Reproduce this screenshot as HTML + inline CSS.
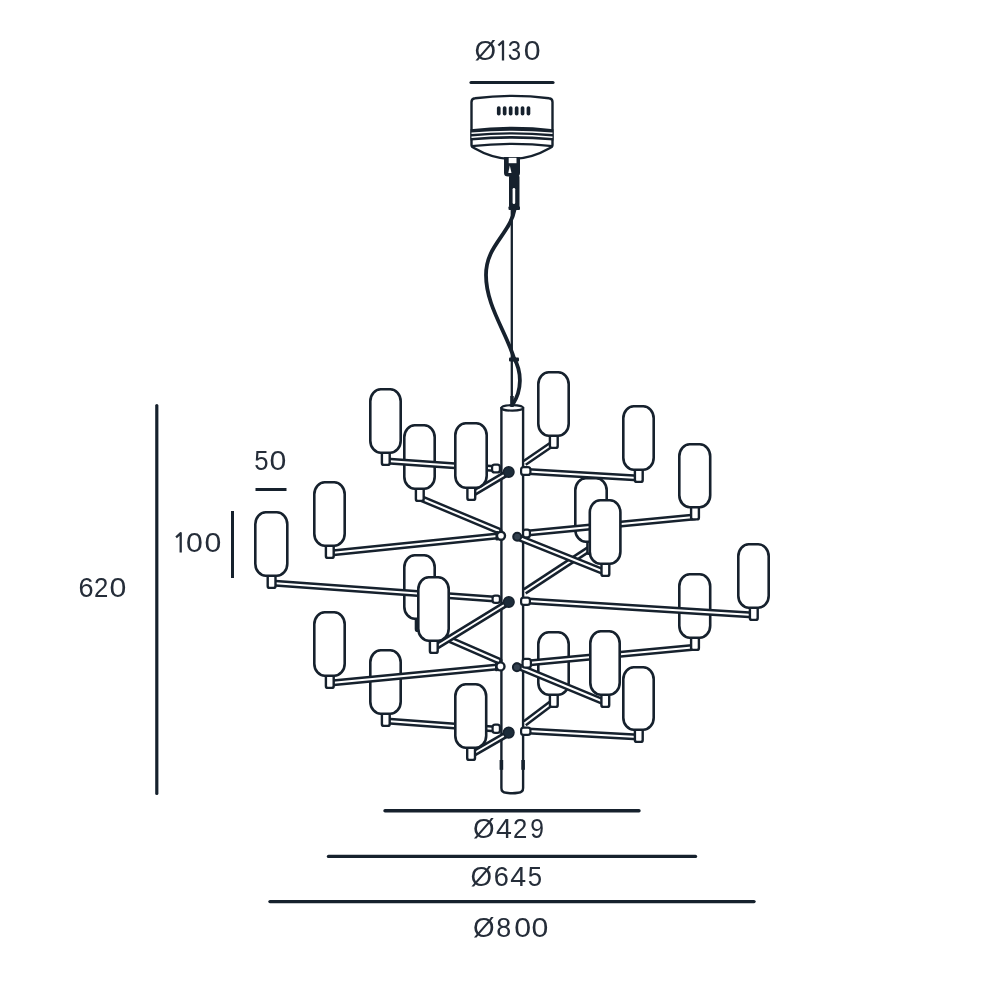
<!DOCTYPE html>
<html><head><meta charset="utf-8"><style>
html,body{margin:0;padding:0;background:#fff;width:1000px;height:1000px;overflow:hidden;font-family:"Liberation Sans",sans-serif;}
svg{display:block;will-change:transform}
</style></head><body>
<svg width="1000" height="1000" viewBox="0 0 1000 1000">
<rect width="1000" height="1000" fill="#fff"/>
<line x1="156.8" y1="405.5" x2="156.8" y2="793.5" stroke="#16212d" stroke-width="3.2" stroke-linecap="round"/>
<line x1="255.5" y1="489.5" x2="286.5" y2="489.5" stroke="#16212d" stroke-width="3"/>
<line x1="232.5" y1="511" x2="232.5" y2="578" stroke="#16212d" stroke-width="3"/>
<line x1="471" y1="82.5" x2="553" y2="82.5" stroke="#16212d" stroke-width="3.2" stroke-linecap="round"/>
<line x1="385" y1="810.8" x2="639" y2="810.8" stroke="#16212d" stroke-width="3.4" stroke-linecap="round"/>
<line x1="328.5" y1="856.4" x2="695.5" y2="856.4" stroke="#16212d" stroke-width="3.4" stroke-linecap="round"/>
<line x1="270" y1="901.6" x2="754" y2="901.6" stroke="#16212d" stroke-width="3.4" stroke-linecap="round"/>
<path d="M471.5,102 Q471.5,98.5 475,98.2 Q512,93.5 549,98.2 Q552.5,98.5 552.5,102 L552.5,145 Q552.5,147 550,148 Q512,170 474,148 Q471.5,147 471.5,145 Z" fill="#fff" stroke="#16212d" stroke-width="2.4"/>
<path d="M470.5,129.2 Q512,124.5 553.5,129.2 L553.5,140.6 Q512,136.8 470.5,140.6 Z" fill="#16212d"/>
<path d="M471.5,133.3 Q512,129.6 552.5,133.3" fill="none" stroke="#fff" stroke-width="1.4"/>
<path d="M471.5,137.2 Q512,133.4 552.5,137.2" fill="none" stroke="#fff" stroke-width="1.4"/>
<path d="M471.5,146.2 Q512,141.5 552.5,146.2" fill="none" stroke="#16212d" stroke-width="2.3"/>
<rect x="496.9" y="106.3" width="3.7" height="9.3" rx="1.8" fill="#16212d"/>
<rect x="502.8" y="106.3" width="3.7" height="9.3" rx="1.8" fill="#16212d"/>
<rect x="508.8" y="106.3" width="3.7" height="9.3" rx="1.8" fill="#16212d"/>
<rect x="514.8" y="106.3" width="3.7" height="9.3" rx="1.8" fill="#16212d"/>
<rect x="520.7" y="106.3" width="3.7" height="9.3" rx="1.8" fill="#16212d"/>
<rect x="526.6" y="106.3" width="3.7" height="9.3" rx="1.8" fill="#16212d"/>
<path d="M504,157 L520,157 L520,173 Q520,176.5 516,176.5 L508,176.5 Q504,176.5 504,173 Z" fill="#16212d"/>
<rect x="508.7" y="157.8" width="7.8" height="5.4" fill="#fff"/>
<path d="M508.3,173 L509.8,165.5 L511.5,173 Z" fill="#fff"/>
<rect x="509" y="175" width="10.5" height="33" rx="2" fill="#16212d"/>
<rect x="512.6" y="188" width="2.6" height="16" rx="1.3" fill="#fff"/>
<rect x="508.5" y="206.2" width="11.5" height="3.8" rx="1" fill="#16212d"/>
<rect x="509" y="357.5" width="10" height="4" rx="1" fill="#16212d"/>
<line x1="511.8" y1="208" x2="511.8" y2="405" stroke="#16212d" stroke-width="2.3"/>
<path d="M515,208 C510,235 486,245 486,275 C486,305 505,330 514,358 C522,372 522,390 513,404" fill="none" stroke="#16212d" stroke-width="3.8"/>
<rect x="502" y="407.5" width="20.5" height="386" fill="#fff"/>
<path d="M501.4,407 L501.4,788 Q501.4,792.6 506.2,792.8 Q512.2,793.8 518,792.8 Q523.1,792.6 523.1,788 L523.1,407" fill="none" stroke="#16212d" stroke-width="2.4"/>
<ellipse cx="512.25" cy="407.9" rx="10.85" ry="2.7" fill="#fff" stroke="#16212d" stroke-width="2.2"/>
<rect x="499.6" y="760" width="3.6" height="9.8" fill="#16212d"/>
<rect x="521.3" y="760" width="3.6" height="9.8" fill="#16212d"/>
<path d="M512,396 L512,407" stroke="#16212d" stroke-width="3.5"/>
<line x1="420" y1="498" x2="499" y2="531" stroke="#16212d" stroke-width="6.9" stroke-linecap="round"/><line x1="420" y1="498" x2="499" y2="531" stroke="#fff" stroke-width="2"/>
<rect x="415.9" y="486.0" width="7.8" height="14.9" rx="2" fill="#fff" stroke="#16212d" stroke-width="2.4"/>
<rect x="404.3" y="425.3" width="30.4" height="63.4" rx="10.5" ry="12" fill="#fff" stroke="#16212d" stroke-width="2.6"/>
<line x1="387" y1="461" x2="494" y2="468.5" stroke="#16212d" stroke-width="6.9" stroke-linecap="round"/><line x1="387" y1="461" x2="494" y2="468.5" stroke="#fff" stroke-width="2"/>
<rect x="381.9" y="450.0" width="7.8" height="14.9" rx="2" fill="#fff" stroke="#16212d" stroke-width="2.4"/>
<rect x="370.3" y="389.3" width="30.4" height="63.4" rx="10.5" ry="12" fill="#fff" stroke="#16212d" stroke-width="2.6"/>
<line x1="472" y1="494" x2="509" y2="472" stroke="#16212d" stroke-width="6.9" stroke-linecap="round"/><line x1="472" y1="494" x2="509" y2="472" stroke="#fff" stroke-width="2"/>
<rect x="467.4" y="485.0" width="7.8" height="14.9" rx="2" fill="#fff" stroke="#16212d" stroke-width="2.4"/>
<rect x="455.3" y="423.3" width="31.4" height="64.4" rx="10.5" ry="12" fill="#fff" stroke="#16212d" stroke-width="2.6"/>
<line x1="331" y1="553" x2="497" y2="536" stroke="#16212d" stroke-width="6.9" stroke-linecap="round"/><line x1="331" y1="553" x2="497" y2="536" stroke="#fff" stroke-width="2"/>
<rect x="325.9" y="543.0" width="7.8" height="14.9" rx="2" fill="#fff" stroke="#16212d" stroke-width="2.4"/>
<rect x="314.3" y="482.3" width="30.4" height="63.4" rx="10.5" ry="12" fill="#fff" stroke="#16212d" stroke-width="2.6"/>
<line x1="421" y1="627" x2="499" y2="661" stroke="#16212d" stroke-width="6.9" stroke-linecap="round"/><line x1="421" y1="627" x2="499" y2="661" stroke="#fff" stroke-width="2"/>
<rect x="415.9" y="616.0" width="7.8" height="14.9" rx="2" fill="#fff" stroke="#16212d" stroke-width="2.4"/>
<rect x="404.3" y="555.3" width="30.4" height="63.4" rx="10.5" ry="12" fill="#fff" stroke="#16212d" stroke-width="2.6"/>
<line x1="272" y1="583" x2="494" y2="599" stroke="#16212d" stroke-width="6.9" stroke-linecap="round"/><line x1="272" y1="583" x2="494" y2="599" stroke="#fff" stroke-width="2"/>
<rect x="267.7" y="573.0" width="7.8" height="14.9" rx="2" fill="#fff" stroke="#16212d" stroke-width="2.4"/>
<rect x="255.3" y="512.3" width="32.0" height="63.4" rx="10.5" ry="12" fill="#fff" stroke="#16212d" stroke-width="2.6"/>
<line x1="434" y1="648" x2="509" y2="602" stroke="#16212d" stroke-width="6.9" stroke-linecap="round"/><line x1="434" y1="648" x2="509" y2="602" stroke="#fff" stroke-width="2"/>
<rect x="429.9" y="638.0" width="7.8" height="14.9" rx="2" fill="#fff" stroke="#16212d" stroke-width="2.4"/>
<rect x="418.3" y="577.3" width="30.4" height="63.4" rx="10.5" ry="12" fill="#fff" stroke="#16212d" stroke-width="2.6"/>
<line x1="387" y1="721" x2="495" y2="729" stroke="#16212d" stroke-width="6.9" stroke-linecap="round"/><line x1="387" y1="721" x2="495" y2="729" stroke="#fff" stroke-width="2"/>
<rect x="381.9" y="711.0" width="7.8" height="14.9" rx="2" fill="#fff" stroke="#16212d" stroke-width="2.4"/>
<rect x="370.3" y="650.3" width="30.4" height="63.4" rx="10.5" ry="12" fill="#fff" stroke="#16212d" stroke-width="2.6"/>
<line x1="331" y1="683" x2="497" y2="667" stroke="#16212d" stroke-width="6.9" stroke-linecap="round"/><line x1="331" y1="683" x2="497" y2="667" stroke="#fff" stroke-width="2"/>
<rect x="325.9" y="673.0" width="7.8" height="14.9" rx="2" fill="#fff" stroke="#16212d" stroke-width="2.4"/>
<rect x="314.3" y="612.3" width="30.4" height="63.4" rx="10.5" ry="12" fill="#fff" stroke="#16212d" stroke-width="2.6"/>
<line x1="471" y1="755" x2="509" y2="733" stroke="#16212d" stroke-width="6.9" stroke-linecap="round"/><line x1="471" y1="755" x2="509" y2="733" stroke="#fff" stroke-width="2"/>
<rect x="467.2" y="745.0" width="7.8" height="14.9" rx="2" fill="#fff" stroke="#16212d" stroke-width="2.4"/>
<rect x="455.3" y="684.3" width="30.9" height="63.4" rx="10.5" ry="12" fill="#fff" stroke="#16212d" stroke-width="2.6"/>
<line x1="553" y1="443.5" x2="524.5" y2="463" stroke="#16212d" stroke-width="6.9" stroke-linecap="butt"/><line x1="553" y1="443.5" x2="524.5" y2="463" stroke="#fff" stroke-width="2"/>
<rect x="549.9" y="433.0" width="7.8" height="14.9" rx="2" fill="#fff" stroke="#16212d" stroke-width="2.4"/>
<rect x="538.3" y="372.3" width="30.4" height="63.4" rx="10.5" ry="12" fill="#fff" stroke="#16212d" stroke-width="2.6"/>
<line x1="590" y1="548.5" x2="524.5" y2="591.5" stroke="#16212d" stroke-width="6.9" stroke-linecap="butt"/><line x1="590" y1="548.5" x2="524.5" y2="591.5" stroke="#fff" stroke-width="2"/>
<rect x="587.4" y="539.0" width="7.8" height="14.9" rx="2" fill="#fff" stroke="#16212d" stroke-width="2.4"/>
<rect x="575.3" y="478.3" width="31.4" height="63.4" rx="10.5" ry="12" fill="#fff" stroke="#16212d" stroke-width="2.6"/>
<line x1="638" y1="478" x2="528" y2="471.5" stroke="#16212d" stroke-width="6.9" stroke-linecap="round"/><line x1="638" y1="478" x2="528" y2="471.5" stroke="#fff" stroke-width="2"/>
<rect x="634.9" y="467.0" width="7.8" height="14.9" rx="2" fill="#fff" stroke="#16212d" stroke-width="2.4"/>
<rect x="623.3" y="406.3" width="30.4" height="63.4" rx="10.5" ry="12" fill="#fff" stroke="#16212d" stroke-width="2.6"/>
<line x1="694" y1="517" x2="528" y2="533" stroke="#16212d" stroke-width="6.9" stroke-linecap="round"/><line x1="694" y1="517" x2="528" y2="533" stroke="#fff" stroke-width="2"/>
<rect x="691.1" y="504.5" width="7.8" height="14.9" rx="2" fill="#fff" stroke="#16212d" stroke-width="2.4"/>
<rect x="679.3" y="444.3" width="30.9" height="62.9" rx="10.5" ry="12" fill="#fff" stroke="#16212d" stroke-width="2.6"/>
<line x1="603" y1="571.5" x2="517" y2="537" stroke="#16212d" stroke-width="6.9" stroke-linecap="round"/><line x1="603" y1="571.5" x2="517" y2="537" stroke="#fff" stroke-width="2"/>
<rect x="601.5" y="561.0" width="7.8" height="14.9" rx="2" fill="#fff" stroke="#16212d" stroke-width="2.4"/>
<rect x="589.8" y="500.3" width="30.6" height="63.4" rx="10.5" ry="12" fill="#fff" stroke="#16212d" stroke-width="2.6"/>
<line x1="553" y1="702" x2="524.5" y2="723.5" stroke="#16212d" stroke-width="6.9" stroke-linecap="butt"/><line x1="553" y1="702" x2="524.5" y2="723.5" stroke="#fff" stroke-width="2"/>
<rect x="549.9" y="692.0" width="7.8" height="14.9" rx="2" fill="#fff" stroke="#16212d" stroke-width="2.4"/>
<rect x="538.3" y="632.3" width="30.4" height="62.4" rx="10.5" ry="12" fill="#fff" stroke="#16212d" stroke-width="2.6"/>
<line x1="692" y1="647.5" x2="528" y2="663" stroke="#16212d" stroke-width="6.9" stroke-linecap="round"/><line x1="692" y1="647.5" x2="528" y2="663" stroke="#fff" stroke-width="2"/>
<rect x="691.1" y="635.0" width="7.8" height="14.9" rx="2" fill="#fff" stroke="#16212d" stroke-width="2.4"/>
<rect x="679.3" y="574.3" width="30.9" height="63.4" rx="10.5" ry="12" fill="#fff" stroke="#16212d" stroke-width="2.6"/>
<line x1="753" y1="615" x2="528" y2="601" stroke="#16212d" stroke-width="6.9" stroke-linecap="round"/><line x1="753" y1="615" x2="528" y2="601" stroke="#fff" stroke-width="2"/>
<rect x="749.9" y="605.0" width="7.8" height="14.9" rx="2" fill="#fff" stroke="#16212d" stroke-width="2.4"/>
<rect x="738.3" y="544.3" width="30.4" height="63.4" rx="10.5" ry="12" fill="#fff" stroke="#16212d" stroke-width="2.6"/>
<line x1="604" y1="702" x2="517" y2="666" stroke="#16212d" stroke-width="6.9" stroke-linecap="round"/><line x1="604" y1="702" x2="517" y2="666" stroke="#fff" stroke-width="2"/>
<rect x="601.4" y="692.0" width="7.8" height="14.9" rx="2" fill="#fff" stroke="#16212d" stroke-width="2.4"/>
<rect x="590.3" y="631.3" width="29.4" height="63.4" rx="10.5" ry="12" fill="#fff" stroke="#16212d" stroke-width="2.6"/>
<line x1="638" y1="737" x2="528" y2="731" stroke="#16212d" stroke-width="6.9" stroke-linecap="round"/><line x1="638" y1="737" x2="528" y2="731" stroke="#fff" stroke-width="2"/>
<rect x="634.9" y="727.0" width="7.8" height="14.9" rx="2" fill="#fff" stroke="#16212d" stroke-width="2.4"/>
<rect x="623.3" y="667.3" width="30.4" height="62.4" rx="10.5" ry="12" fill="#fff" stroke="#16212d" stroke-width="2.6"/>
<rect x="492.1" y="464.6" width="7.8" height="7.8" rx="2.5" fill="#fff" stroke="#16212d" stroke-width="2.2"/>
<circle cx="508.7" cy="472" r="5.3" fill="#1d2c3a" stroke="#16212d" stroke-width="1.5"/>
<rect x="521.1" y="467.1" width="9.3" height="7.8" rx="2.5" fill="#fff" stroke="#16212d" stroke-width="2.2"/>
<rect x="495.5" y="530.9000000000001" width="3" height="9.6" rx="1" fill="#16212d"/><circle cx="501" cy="535.7" r="4.0" fill="#fff" stroke="#16212d" stroke-width="2.4"/>
<circle cx="517.2" cy="536.8" r="4.0" fill="#34414f" stroke="#16212d" stroke-width="2"/>
<rect x="523.1" y="529.6" width="6.8" height="7.8" rx="2.5" fill="#fff" stroke="#16212d" stroke-width="2.2"/>
<rect x="492.6" y="595.6" width="7.3" height="7.3" rx="2.5" fill="#fff" stroke="#16212d" stroke-width="2.2"/>
<circle cx="508.8" cy="602" r="5.3" fill="#1d2c3a" stroke="#16212d" stroke-width="1.5"/>
<rect x="521.1" y="597.6" width="8.8" height="7.3" rx="2.5" fill="#fff" stroke="#16212d" stroke-width="2.2"/>
<rect x="495.0" y="661.6" width="3" height="9.6" rx="1" fill="#16212d"/><circle cx="500.5" cy="666.4" r="4.0" fill="#fff" stroke="#16212d" stroke-width="2.4"/>
<circle cx="516.9" cy="667.2" r="4.0" fill="#34414f" stroke="#16212d" stroke-width="2"/>
<rect x="522.6" y="658.9" width="8.3" height="8.8" rx="2.5" fill="#fff" stroke="#16212d" stroke-width="2.2"/>
<rect x="492.6" y="724.6" width="7.3" height="8.3" rx="2.5" fill="#fff" stroke="#16212d" stroke-width="2.2"/>
<circle cx="508.7" cy="732.6" r="5.3" fill="#1d2c3a" stroke="#16212d" stroke-width="1.5"/>
<rect x="521.1" y="727.6" width="9.3" height="7.3" rx="2.5" fill="#fff" stroke="#16212d" stroke-width="2.2"/>
<text transform="translate(485.25,0) scale(0.99,1) translate(-485.25,0)" x="474.35" y="60.3" font-family="Liberation Sans, sans-serif" font-size="28" fill="#252d39">Ø</text>
<path d="M503.00,60.50 L503.00,41.30 L498.40,45.50" fill="none" stroke="#252d39" stroke-width="2.3" stroke-linejoin="round"/>
<text transform="translate(514.45,0) scale(0.86,1) translate(-514.45,0)" x="506.75" y="60.3" font-family="Liberation Sans, sans-serif" font-size="28" fill="#252d39">3</text>
<text transform="translate(532.30,0) scale(1.08,1) translate(-532.30,0)" x="524.50" y="60.3" font-family="Liberation Sans, sans-serif" font-size="28" fill="#252d39">0</text>
<text transform="translate(483.75,0) scale(0.99,1) translate(-483.75,0)" x="472.85" y="838.2" font-family="Liberation Sans, sans-serif" font-size="28" fill="#252d39">Ø</text>
<text transform="translate(503.75,0) scale(1.02,1) translate(-503.75,0)" x="496.05" y="838.2" font-family="Liberation Sans, sans-serif" font-size="28" fill="#252d39">4</text>
<text transform="translate(520.25,0) scale(0.92,1) translate(-520.25,0)" x="512.45" y="838.2" font-family="Liberation Sans, sans-serif" font-size="28" fill="#252d39">2</text>
<text transform="translate(537.00,0) scale(0.88,1) translate(-537.00,0)" x="529.25" y="838.2" font-family="Liberation Sans, sans-serif" font-size="28" fill="#252d39">9</text>
<text transform="translate(481.25,0) scale(0.99,1) translate(-481.25,0)" x="470.35" y="886.2" font-family="Liberation Sans, sans-serif" font-size="28" fill="#252d39">Ø</text>
<text transform="translate(501.25,0) scale(0.97,1) translate(-501.25,0)" x="493.40" y="886.2" font-family="Liberation Sans, sans-serif" font-size="28" fill="#252d39">6</text>
<text transform="translate(518.00,0) scale(1.02,1) translate(-518.00,0)" x="510.30" y="886.2" font-family="Liberation Sans, sans-serif" font-size="28" fill="#252d39">4</text>
<text transform="translate(535.00,0) scale(0.92,1) translate(-535.00,0)" x="527.25" y="886.2" font-family="Liberation Sans, sans-serif" font-size="28" fill="#252d39">5</text>
<text transform="translate(483.75,0) scale(0.99,1) translate(-483.75,0)" x="472.85" y="936.7" font-family="Liberation Sans, sans-serif" font-size="28" fill="#252d39">Ø</text>
<text transform="translate(503.75,0) scale(0.96,1) translate(-503.75,0)" x="495.95" y="936.7" font-family="Liberation Sans, sans-serif" font-size="28" fill="#252d39">8</text>
<text transform="translate(522.75,0) scale(1.08,1) translate(-522.75,0)" x="514.95" y="936.7" font-family="Liberation Sans, sans-serif" font-size="28" fill="#252d39">0</text>
<text transform="translate(540.00,0) scale(1.08,1) translate(-540.00,0)" x="532.20" y="936.7" font-family="Liberation Sans, sans-serif" font-size="28" fill="#252d39">0</text>
<text transform="translate(261.35,0) scale(0.92,1) translate(-261.35,0)" x="253.60" y="469.6" font-family="Liberation Sans, sans-serif" font-size="28" fill="#252d39">5</text>
<text transform="translate(277.90,0) scale(1.08,1) translate(-277.90,0)" x="270.10" y="469.6" font-family="Liberation Sans, sans-serif" font-size="28" fill="#252d39">0</text>
<path d="M180.70,552.40 L180.70,533.20 L176.10,537.40" fill="none" stroke="#252d39" stroke-width="2.3" stroke-linejoin="round"/>
<text transform="translate(194.50,0) scale(1.08,1) translate(-194.50,0)" x="186.70" y="552.2" font-family="Liberation Sans, sans-serif" font-size="28" fill="#252d39">0</text>
<text transform="translate(212.90,0) scale(1.08,1) translate(-212.90,0)" x="205.10" y="552.2" font-family="Liberation Sans, sans-serif" font-size="28" fill="#252d39">0</text>
<text transform="translate(86.10,0) scale(0.97,1) translate(-86.10,0)" x="78.25" y="597.3" font-family="Liberation Sans, sans-serif" font-size="28" fill="#252d39">6</text>
<text transform="translate(101.15,0) scale(0.92,1) translate(-101.15,0)" x="93.35" y="597.3" font-family="Liberation Sans, sans-serif" font-size="28" fill="#252d39">2</text>
<text transform="translate(117.95,0) scale(1.08,1) translate(-117.95,0)" x="110.15" y="597.3" font-family="Liberation Sans, sans-serif" font-size="28" fill="#252d39">0</text>
</svg>
</body></html>
